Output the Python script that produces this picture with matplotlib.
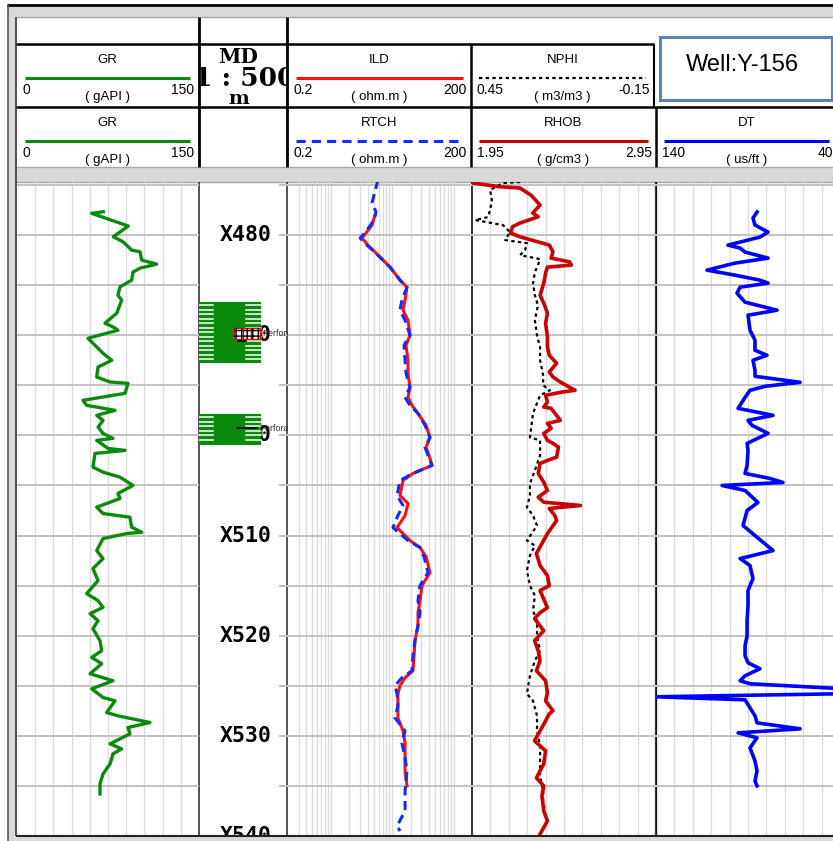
import numpy as np
import matplotlib.pyplot as plt
from matplotlib.patches import Rectangle

W, H = 833, 841
TOP, BASE = 474.7, 539.9          # depth shown at top / bottom of the log tracks

depth_labels = [480, 490, 500, 510, 520, 530, 540]
grid_depths = np.arange(475, 540, 5)

# perforated intervals (m)
perf_top = [486.7, 497.9]
perf_base = [492.8, 501.0]

# gamma ray (gAPI)
gr_depth = [477.67, 477.83, 479.1, 480.17, 480.67, 481.5, 481.67, 482.5, 482.9, 483.3, 483.7, 484.5,
            485.17, 486.0, 486.5, 487.8, 488.8, 489.17, 489.5, 490.3, 490.8, 491.8, 492.5, 493.17,
            494.17, 494.67, 494.8, 495.8, 496.5, 497.0, 497.5, 498.0, 498.5, 499.17, 499.8, 500.3,
            500.5, 501.3, 501.5, 501.8, 503.17, 503.67, 504.17, 505.0, 505.8, 506.3, 507.17, 507.8,
            508.17, 509.17, 509.67, 509.8, 510.3, 511.5, 512.3, 513.3, 514.5, 515.8, 516.5, 517.17,
            517.8, 518.5, 519.3, 520.5, 521.5, 522.17, 522.8, 523.8, 524.5, 525.3, 526.17, 526.5,
            527.67, 528.0, 528.67, 529.17, 529.8, 530.8, 531.3, 531.8, 532.8, 533.8, 534.8, 535.8]
gr_api = [71.1, 61.6, 91.7, 79.4, 87.4, 94.5, 101.4, 102.8, 115.1, 101.4, 95.6, 94.5,
          84.9, 83.2, 86.3, 82.2, 72.5, 79.1, 83.2, 58.5, 62.6, 70.9, 78.1, 66.8,
          65.7, 76.7, 91.5, 89.0, 54.4, 57.4, 80.8, 65.7, 70.9, 66.8, 70.9, 79.1,
          65.7, 75.0, 89.0, 64.3, 62.6, 70.9, 84.9, 95.6, 83.2, 84.9, 65.7, 70.9,
          93.1, 94.5, 102.8, 90.4, 70.9, 65.7, 70.9, 62.6, 66.8, 57.4, 66.8, 70.9,
          60.2, 66.8, 62.6, 68.4, 69.8, 61.6, 69.8, 60.2, 79.1, 61.6, 70.9, 80.8,
          73.9, 83.2, 109.6, 91.5, 93.1, 76.7, 86.3, 79.1, 76.7, 70.9, 68.4, 68.4]

# deep induction (ohm.m)
ild_depth = [478.0, 479.0, 480.3, 481.0, 482.2, 483.2, 484.5, 485.2, 486.5, 487.5, 488.5, 490.0, 491.0,
             492.5, 493.8, 495.2, 496.2, 497.0, 497.8, 499.0, 500.2, 501.2, 502.0, 503.0, 503.8, 504.5,
             506.0, 506.8, 508.0, 509.2, 510.5, 511.2, 512.1, 513.7, 515.0, 516.5, 517.7, 519.0, 520.5,
             522.0, 523.5, 524.2, 525.0, 525.8, 527.0, 528.2, 529.5, 530.7, 532.2, 533.5, 535.0]
ild = [5.24, 4.69, 3.22, 4.03, 6.33, 9.21, 13.4, 17.4, 16.2, 15.0, 18.1, 19.5, 16.8,
       18.1, 18.1, 19.5, 18.1, 21.0, 26.3, 35.6, 41.3, 35.6, 39.8, 44.6, 21.8, 15.0,
       13.4, 18.1, 16.2, 12.0, 19.5, 28.4, 35.6, 41.3, 30.6, 28.4, 26.3, 26.3, 23.5,
       22.7, 21.8, 16.2, 13.4, 12.4, 12.4, 12.4, 15.0, 16.2, 16.2, 16.2, 17.4]

# RTCH resistivity (ohm.m)
rtch_depth = [474.5, 476.0, 476.8, 477.7, 478.5, 479.5, 480.3, 481.0, 482.2, 483.2, 484.5, 485.2, 486.5,
              487.5, 488.5, 490.0, 491.0, 492.5, 493.8, 495.2, 496.2, 497.0, 497.8, 499.0, 500.2, 501.2,
              502.0, 503.0, 503.8, 504.5, 506.0, 507.0, 508.0, 509.2, 510.5, 511.2, 512.1, 513.7, 515.0,
              516.5, 517.7, 519.0, 520.5, 522.0, 523.5, 524.2, 525.0, 525.8, 527.0, 528.2, 529.5, 530.7,
              532.2, 533.5, 535.5, 537.5, 539.0, 539.5]
rtch = [5.87, 5.05, 4.69, 5.44, 5.05, 3.88, 3.00, 3.88, 6.33, 9.21, 13.4, 17.4, 14.4,
        13.4, 16.2, 19.5, 15.6, 16.2, 16.8, 19.5, 16.2, 19.5, 26.3, 34.3, 41.3, 34.3,
        38.4, 44.6, 21.8, 13.4, 12.0, 15.0, 12.4, 10.3, 18.1, 28.4, 33.0, 38.4, 28.4,
        26.3, 28.4, 26.3, 23.5, 21.8, 21.0, 14.4, 11.1, 12.0, 12.4, 11.1, 16.2, 14.4,
        16.2, 17.4, 16.2, 16.2, 12.0, 13.4]

# bulk density (g/cm3)
rhob_depth = [474.8, 475.17, 475.3, 476.0, 477.0, 477.8, 478.17, 478.8, 479.17, 479.8, 480.17, 481.0,
              481.67, 482.3, 482.67, 483.0, 483.2, 483.8, 484.8, 486.0, 486.8, 487.8, 488.8, 490.17,
              491.17, 492.0, 492.8, 493.67, 494.17, 494.67, 495.5, 495.67, 496.0, 496.67, 497.17, 497.3,
              498.5, 498.8, 499.3, 499.8, 500.5, 500.8, 501.17, 502.17, 502.5, 502.8, 503.8, 504.67,
              505.5, 506.17, 506.67, 507.0, 507.3, 508.0, 508.5, 509.8, 511.8, 513.0, 514.0, 515.0,
              515.5, 517.2, 517.7, 518.3, 519.5, 520.5, 521.5, 522.5, 523.5, 524.5, 525.7, 526.5,
              527.5, 527.8, 528.5, 530.5, 531.5, 532.8, 534.2, 535.0, 536.0, 537.5, 538.5, 539.8]
rhob = [1.95, 2.10, 2.21, 2.27, 2.32, 2.28, 2.31, 2.21, 2.17, 2.16, 2.21, 2.37,
        2.39, 2.38, 2.48, 2.49, 2.36, 2.35, 2.34, 2.32, 2.34, 2.36, 2.35, 2.36,
        2.36, 2.37, 2.41, 2.37, 2.39, 2.43, 2.51, 2.44, 2.35, 2.36, 2.34, 2.38,
        2.43, 2.36, 2.38, 2.34, 2.36, 2.39, 2.42, 2.41, 2.36, 2.32, 2.31, 2.34,
        2.36, 2.31, 2.34, 2.54, 2.37, 2.40, 2.41, 2.36, 2.30, 2.32, 2.36, 2.37,
        2.32, 2.36, 2.32, 2.29, 2.34, 2.29, 2.31, 2.32, 2.30, 2.35, 2.36, 2.35,
        2.39, 2.37, 2.35, 2.29, 2.35, 2.34, 2.30, 2.34, 2.33, 2.34, 2.36, 2.32]

# neutron porosity (m3/m3)
nphi_depth = [474.7, 474.8, 475.5, 476.5, 477.5, 478.2, 478.5, 479.0, 479.7, 480.5, 480.8, 481.5, 482.0,
              482.4, 483.0, 483.7, 484.8, 486.0, 487.0, 488.5, 490.0, 491.2, 492.5, 494.0, 495.0, 495.5,
              496.0, 497.8, 498.5, 500.2, 500.5, 502.0, 503.5, 504.8, 506.0, 507.2, 508.0, 509.0, 510.5,
              511.0, 512.0, 513.5, 515.0, 516.0, 517.5, 518.5, 520.0, 521.5, 522.5, 524.0, 525.8, 526.5,
              528.0, 529.5, 531.0, 532.5, 534.0, 535.5, 536.5, 537.5]
nphi = [0.293, 0.349, 0.391, 0.385, 0.391, 0.398, 0.440, 0.349, 0.326, 0.342, 0.271, 0.277, 0.293,
        0.228, 0.235, 0.245, 0.251, 0.245, 0.235, 0.245, 0.238, 0.228, 0.228, 0.218, 0.218, 0.196,
        0.228, 0.251, 0.254, 0.261, 0.228, 0.228, 0.245, 0.261, 0.261, 0.271, 0.251, 0.238, 0.271,
        0.245, 0.261, 0.271, 0.261, 0.245, 0.251, 0.238, 0.238, 0.228, 0.245, 0.261, 0.271, 0.251,
        0.238, 0.238, 0.228, 0.228, 0.228, 0.218, 0.218, 0.212]

# sonic (us/ft)
dt_depth = [477.7, 478.3, 479.0, 479.7, 480.2, 481.0, 481.3, 481.7, 482.3, 482.8, 483.5, 484.0, 484.5,
            484.8, 485.2, 485.8, 486.7, 487.5, 488.0, 489.5, 490.5, 491.5, 492.0, 492.5, 493.5, 494.1,
            494.7, 495.1, 495.5, 496.2, 497.3, 498.0, 498.5, 499.0, 499.8, 500.8, 501.5, 503.0, 503.8,
            504.3, 504.7, 505.0, 505.5, 506.7, 507.5, 509.0, 510.0, 511.5, 512.3, 513.0, 514.3, 515.5,
            517.0, 518.5, 520.0, 521.0, 522.0, 522.7, 523.3, 524.0, 524.5, 524.8, 525.3, 525.8, 526.1,
            526.4, 527.2, 528.0, 528.7, 529.3, 529.7, 530.2, 531.2, 532.5, 533.5, 534.5, 535.0]
dt = [85.1, 87.3, 86.2, 79.1, 83.5, 100.9, 94.3, 91.6, 79.1, 97.1, 112.3, 97.1, 83.5,
      79.1, 94.3, 96.0, 91.6, 74.2, 90.0, 88.9, 86.2, 86.2, 79.7, 87.3, 86.2, 86.2,
      61.7, 80.8, 88.9, 91.6, 95.4, 76.4, 90.0, 87.8, 79.1, 90.5, 90.0, 90.5, 91.6,
      78.0, 71.0, 104.1, 91.6, 84.6, 90.5, 92.7, 86.2, 76.4, 94.3, 88.9, 87.3, 90.0,
      90.0, 90.5, 90.5, 91.6, 91.6, 90.0, 83.5, 91.6, 94.3, 88.9, 38.0, 41.0, 140.0,
      91.6, 88.9, 86.2, 85.1, 61.7, 95.4, 85.1, 88.9, 86.2, 85.1, 86.2, 85.1]

NARROW = ['Liberation Sans Narrow', 'Liberation Sans', 'DejaVu Sans']
GRID_H = dict(color='#c3c3c3', lw=1.4, zorder=1)
GRID_V = dict(color='#dcdcdc', lw=1.0, zorder=1)

fig = plt.figure(figsize=(W / 100, H / 100), dpi=100)
fig.patch.set_facecolor('white')

# full-figure canvas in pixel units for the frame and the header
bg = fig.add_axes([0, 0, 1, 1], zorder=0)
bg.set_xlim(0, W)
bg.set_ylim(H, 0)
bg.axis('off')


def hline(y, x0, x1, **kw):
    bg.plot([x0, x1], [y, y], solid_capstyle='butt', **kw)


def vline(x, y0, y1, **kw):
    bg.plot([x, x], [y0, y1], solid_capstyle='butt', **kw)


# window frame and grey bands
band = '#d9d9d9'
bg.add_patch(Rectangle((8, 6), W, 11, fc=band, ec='none'))
bg.add_patch(Rectangle((8, 6), 8, H, fc=band, ec='none'))
bg.add_patch(Rectangle((8, 167), W, 15, fc=band, ec='none'))
bg.add_patch(Rectangle((8, 836), W, 10, fc=band, ec='none'))
hline(5, 7, W, color='black', lw=2.0)
vline(8, 5, H, color='#555555', lw=1.2)
hline(17, 16, W, color='#a8a8a8', lw=1.0)
hline(167, 16, W, color='#a8a8a8', lw=1.0)
hline(182, 16, W, color='#a8a8a8', lw=1.0)
vline(16.5, 17, 836, color='#444444', lw=1.3)

# header grid
hline(44, 16, 654, color='black', lw=1.8)
vline(199, 17, 167, color='black', lw=2.0)
vline(287, 17, 167, color='black', lw=2.0)
vline(471, 44, 167, color='black', lw=1.8)
vline(654, 44, 107, color='black', lw=1.5)
vline(656, 107, 167, color='black', lw=1.8)


def header_cell(x0, x1, row, name, color, ls, lo, hi, unit, lw=2.2):
    top = 44 if row == 0 else 107
    xc = (x0 + x1) / 2
    bg.text(xc, top + 16, name, ha='center', va='center', fontsize=9.5, family=NARROW)
    bg.plot([x0 + 8, x1 - 8], [top + 33.5] * 2, color=color, lw=lw, ls=ls, solid_capstyle='butt')
    bg.text(x0 + 6, top + 46, lo, ha='left', va='center', fontsize=10, family=NARROW)
    bg.text(x1 - 4, top + 46, hi, ha='right', va='center', fontsize=10, family=NARROW)
    bg.text(xc, top + 53, '( %s )' % unit, ha='center', va='center', fontsize=9.5, family=NARROW)


header_cell(17, 198, 0, 'GR', '#0a8a0a', '-', '0', '150', 'gAPI')
header_cell(17, 198, 1, 'GR', '#0a8a0a', '-', '0', '150', 'gAPI')
header_cell(288, 471, 0, 'ILD', '#ff1010', '-', '0.2', '200', 'ohm.m')
header_cell(288, 471, 1, 'RTCH', '#1428ff', (0, (3, 2)), '0.2', '200', 'ohm.m')
header_cell(471, 654, 0, 'NPHI', 'black', (0, (1.5, 1.5)), '0.45', '-0.15', 'm3/m3', lw=1.6)
header_cell(471, 656, 1, 'RHOB', '#cc0000', '-', '1.95', '2.95', 'g/cm3')
header_cell(656, 837, 1, 'DT', '#0000ff', '-', '140', '40', 'us/ft')

# depth scale header, clipped to its cell
md_clip = Rectangle((200, 45), 86, 61, transform=bg.transData)
for txt, x, y, size in [('MD', 238, 57, 14.5), ('1 : 500', 245, 78, 19), ('m', 239, 99, 14)]:
    t = bg.text(x, y, txt, ha='center', va='center', fontsize=size,
                fontweight='bold', family='DejaVu Serif')
    t.set_clip_on(True)
    t.set_clip_path(md_clip)
hline(107, 16, W, color='black', lw=1.8)

# well name box
bg.add_patch(Rectangle((660, 37), 172, 63, fill=False, ec='#5a80b4', lw=2.2))
bg.text(742, 65, 'Well:Y-156', ha='center', va='center', fontsize=17, family='Liberation Sans')

# track borders
for x, c, w in [(199, '#444444', 1.3), (287.5, '#444444', 1.3), (472, '#333333', 1.4), (656, '#111111', 1.6)]:
    vline(x, 182, 836, color=c, lw=w)
hline(835.5, 16, W, color='#222222', lw=1.5)


def track(x0, x1, zorder=2):
    ax = fig.add_axes([x0 / W, 1 - 835 / H, (x1 - x0) / W, (835 - 182) / H], zorder=zorder)
    ax.set_ylim(BASE, TOP)
    ax.axis('off')
    return ax


# GR track
ax_gr = track(17, 199)
ax_gr.set_xlim(0, 150)
for v in np.arange(15, 150, 15):
    ax_gr.axvline(v, **GRID_V)
for d in grid_depths:
    ax_gr.axhline(d, **GRID_H)
ax_gr.plot(gr_api, gr_depth, color='#0a8a0a', lw=2.4, zorder=3)

# depth track with perforations
ax_md = track(199, 288)
ax_md.set_xlim(0, 89)
for d in grid_depths:
    ax_md.plot([81, 89], [d, d], color='#c3c3c3', lw=1.4)
for d in depth_labels:
    ax_md.text(46.5, d, 'X%d' % d, ha='center', va='center', fontsize=15.5,
               fontweight='bold', family='DejaVu Sans Mono', clip_on=True, zorder=2)

green = '#0a8a0a'
for i, (t, b) in enumerate(zip(perf_top, perf_base)):
    ax_md.add_patch(Rectangle((0, t), 62, b - t, fc=green, ec='none', zorder=3))
    for d in np.arange(t + 0.3, b - 0.1, 0.45):
        ax_md.plot([0, 14], [d, d], color='white', lw=1.1, zorder=4)
        ax_md.plot([47, 62], [d, d], color='white', lw=1.1, zorder=4)
    if i == 0:
        mid = t + 2.6
        for k in range(3):
            ax_md.add_patch(Rectangle((35 + 8.7 * k, mid), 8.7, 1.1, fc='white', ec='red', lw=1.0, zorder=5))
            ax_md.add_patch(Rectangle((35 + 8.7 * k, mid), 8.7, 1.1, fill=False, ec='black', lw=0,
                                      hatch='+++', zorder=6))
        ax_md.plot([39, 47], [mid + 1.3] * 2, color='black', lw=1.2, zorder=6)
        ax_md.text(63, mid + 0.55, 'Perforation', ha='left', va='center', fontsize=6.5,
                   family=NARROW, color='#333333', clip_on=True, zorder=6)
    else:
        mid = t + 1.4
        ax_md.plot([38, 58], [mid, mid], color='black', lw=1.2, zorder=6)
        ax_md.text(60, mid, 'Perforation', ha='left', va='center', fontsize=6.5,
                   family=NARROW, color='#333333', clip_on=True, zorder=6)

# resistivity track (log 0.2 - 200)
ax_res = track(288, 472)
ax_res.set_xscale('log')
ax_res.set_xlim(0.2, 200)
for dec in [0.1, 1, 10, 100]:
    for k in range(1, 10):
        v = k * dec
        if 0.2 < v < 200:
            ax_res.axvline(v, **GRID_V)
for d in grid_depths:
    ax_res.axhline(d, **GRID_H)
ax_res.plot(ild, ild_depth, color='#ff1010', lw=2.2, zorder=3)
ax_res.plot(rtch, rtch_depth, color='#1428ff', lw=2.2, ls=(0, (3, 1.8)), zorder=4)

# density / neutron track
ax_den = track(472, 656)
ax_den.set_xlim(1.95, 2.95)
for v in np.arange(2.05, 2.95, 0.1):
    ax_den.axvline(v, **GRID_V)
for d in grid_depths:
    ax_den.axhline(d, **GRID_H)
ax_nphi = track(472, 656, zorder=3)
ax_nphi.set_xlim(0.45, -0.15)
ax_nphi.plot(nphi, nphi_depth, color='black', lw=1.6, ls=(0, (1.5, 1.5)))
ax_rhob = track(472, 656, zorder=4)
ax_rhob.set_xlim(1.95, 2.95)
ax_rhob.plot(rhob, rhob_depth, color='#cc0000', lw=2.6)

# sonic track (runs past the right edge)
ax_dt = track(656, 840)
ax_dt.set_xlim(140, 40)
for v in np.arange(130, 40, -10):
    ax_dt.axvline(v, **GRID_V)
for d in grid_depths:
    ax_dt.axhline(d, **GRID_H)
ax_dt.plot(dt, dt_depth, color='#0000ff', lw=2.6, zorder=3)

fig.savefig('out.png', dpi=100)
